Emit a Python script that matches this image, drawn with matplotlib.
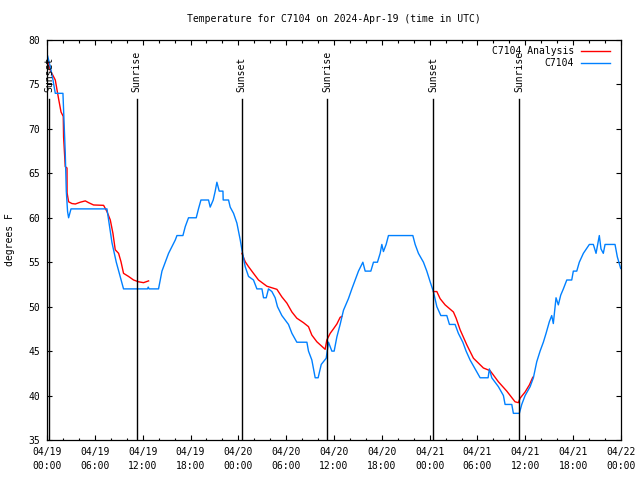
import numpy as np
import pandas as pd
import matplotlib
matplotlib.use('Agg')
import matplotlib.pyplot as plt

plt.rcParams['font.family'] = 'DejaVu Sans Mono'
plt.rcParams['font.size'] = 7

start = pd.Timestamp('2024-04-19 00:00')

# C7104 observations: hours after 04/19 00:00 UTC, deg F
obs_hours = [0.08, 0.41, 0.75, 1.04, 2.0, 2.29, 2.42, 2.58, 2.71, 3.01, 7.52, 8.15, 8.69, 9.6,
             12.6, 12.7, 12.8, 13.99, 14.42, 15.25, 16.09, 16.3, 17.05, 17.34, 17.75, 18.72,
             19.0, 19.31, 20.26, 20.47, 20.85, 21.1, 21.31, 21.6, 22.07, 22.1, 22.77, 22.98,
             23.4, 23.82, 24.24, 24.45, 24.86, 25.28, 25.9, 26.33, 26.96, 27.16, 27.5, 27.78,
             28.21, 28.62, 28.91, 29.46, 30.29, 30.72, 31.34, 32.6, 32.8, 33.22, 33.64, 34.01,
             34.4, 35.02, 35.31, 35.73, 36.02, 36.36, 36.77, 37.19, 37.81, 38.24, 38.65, 39.07,
             39.62, 39.91, 40.62, 40.95, 41.45, 41.79, 42.0, 42.2, 42.54, 42.83, 45.89, 46.18,
             46.59, 47.22, 47.64, 48.06, 48.47, 48.9, 49.4, 50.15, 50.48, 51.19, 51.6, 52.16,
             52.57, 53.07, 53.7, 54.33, 55.33, 55.49, 55.79, 56.62, 57.25, 57.46, 58.3, 58.5,
             59.25, 59.55, 59.97, 60.6, 61.01, 61.43, 61.85, 62.26, 62.6, 63.01, 63.31, 63.51,
             63.85, 64.14, 64.44, 64.77, 65.2, 65.82, 66.02, 66.45, 66.77, 67.28, 68.03, 68.53,
             68.87, 69.28, 69.49, 69.78, 70.0, 71.25, 71.54, 71.96]
obs_temp = [78.2, 77, 75.5, 74, 74, 67.3, 63, 60.7, 60, 61, 61, 57.2, 55, 52,
            52, 52.2, 52, 52, 54, 56, 57.5, 58, 58, 59, 60, 60,
            61, 62, 62, 61.2, 62, 63, 64, 63, 63, 62, 62, 61.2,
            60.5, 59.4, 57.5, 56.4, 54.5, 53.4, 53, 52, 52, 51, 51, 52,
            51.7, 51, 50, 49, 48, 47, 46, 46, 45, 44, 42, 42,
            43.5, 44.2, 46, 45, 45, 46.6, 48, 49.6, 50.9, 52, 53, 54,
            55, 54, 54, 55, 55, 56, 57, 56.2, 57, 58, 58, 57,
            56, 55, 54, 52.8, 51.7, 50, 49, 49, 48, 48, 47, 46,
            45, 44, 43, 42, 42, 43, 42, 41, 40, 39, 39, 38,
            38, 39, 40, 41, 42, 43.8, 45, 46, 47, 48.3, 49, 48.1,
            51, 50.2, 51.3, 52, 53, 53, 54, 54, 55, 56, 57, 57,
            56, 58, 56.5, 56, 57, 57, 55.6, 54.3]

# C7104 Analysis (gaps as nan)
ana_hours = [0.08, 0.41, 1.04, 1.45, 1.76, 2.04, 2.08, 2.29, 2.51, 2.52, 2.71, 3.13, 3.55,
             4.17, 4.8, 5.22, 5.84, 7.1, 7.52, 7.94, 8.27, 8.56, 8.98, 9.28, 9.6, 10.23,
             10.86, 11.48, 12.11, 12.74, np.nan,
             24.45, 24.86, 25.28, 25.9, 26.53, 27.58, 28.84, 29.46, 30.09, 30.72, 31.34,
             32.17, 32.8, 33.22, 33.85, 34.89, 35.1, 35.52, 35.93, 36.36, 36.77, 36.98, np.nan,
             48.47, 48.9, 49.31, 49.94, 50.98, 51.32, 51.82, 52.66, 53.49, 54.74, 55.58, 56.0,
             56.62, 57.67, 58.71, 59.13, 59.34, 59.97, 60.51, 60.93]
ana_temp = [77.75, 76.6, 75.5, 73.4, 71.9, 71.4, 69.1, 65.75, 65.6, 62.8, 61.8, 61.6, 61.55,
            61.75, 61.9, 61.7, 61.44, 61.4, 60.7, 59.75, 58.25, 56.4, 56, 55.06, 53.75, 53.4,
            53, 52.8, 52.7, 52.9, np.nan,
            56, 55.06, 54.5, 53.75, 53, 52.3, 51.95, 51.1, 50.4, 49.4, 48.7,
            48.2, 47.75, 46.8, 46.05, 45.2, 46.25, 47, 47.5, 48.05, 48.8, 48.9, np.nan,
            51.7, 51.7, 50.9, 50.2, 49.4, 48.7, 47.4, 45.7, 44.2, 43.1, 42.8, 42.3,
            41.55, 40.5, 39.3, 39.2, 39.7, 40.4, 41.2, 42.05]

sun_hours = [0.29, 11.23, 24.4, 35.18, 48.47, 59.25]
sun_labels = ['Sunset', 'Sunrise', 'Sunset', 'Sunrise', 'Sunset', 'Sunrise']

tick_hours = list(range(0, 73, 6))
tick_labels = [(start + pd.Timedelta(hours=h)).strftime('%m/%d\n%H:%M') for h in tick_hours]

fig = plt.figure(figsize=(6.4, 4.8), dpi=100)
ax = fig.add_axes([47/640, 40/480, 574/640, 400/480])

ax.plot(ana_hours, ana_temp, color='#ff0000', lw=1.0, label='C7104 Analysis')
ax.plot(obs_hours, obs_temp, color='#0080ff', lw=1.0, label='C7104')

for h, lab in zip(sun_hours, sun_labels):
    ax.plot([h, h], [35, 73.4], color='black', lw=1.0)
    ax.text(h, 74.1, lab, rotation=90, ha='center', va='bottom')

ax.set_xlim(0, 72)
ax.set_ylim(35, 80)
ax.set_xticks(tick_hours)
labels = ax.set_xticklabels(tick_labels)
for t in labels:
    t.set_linespacing(1.55)
ax.set_xticks(range(0, 73, 2), minor=True)
ax.set_yticks(range(35, 81, 5))

ax.tick_params(which='both', direction='in', top=True, right=True, width=0.8)
ax.tick_params(which='major', length=3.3, pad=5)
ax.tick_params(which='minor', length=1.8)
for s in ax.spines.values():
    s.set_linewidth(0.9)

ax.set_title('Temperature for C7104 on 2024-Apr-19 (time in UTC)', fontsize=7, pad=13)
ax.set_ylabel('degrees F')
ax.yaxis.set_label_coords(-0.0557, 0.5)

ax.legend(loc='upper right', bbox_to_anchor=(0.981, 0.985), frameon=False,
          markerfirst=False, borderpad=0, borderaxespad=0, handlelength=3.0,
          handletextpad=0.7, labelspacing=0.25)

fig.savefig('out.png', dpi=100)
